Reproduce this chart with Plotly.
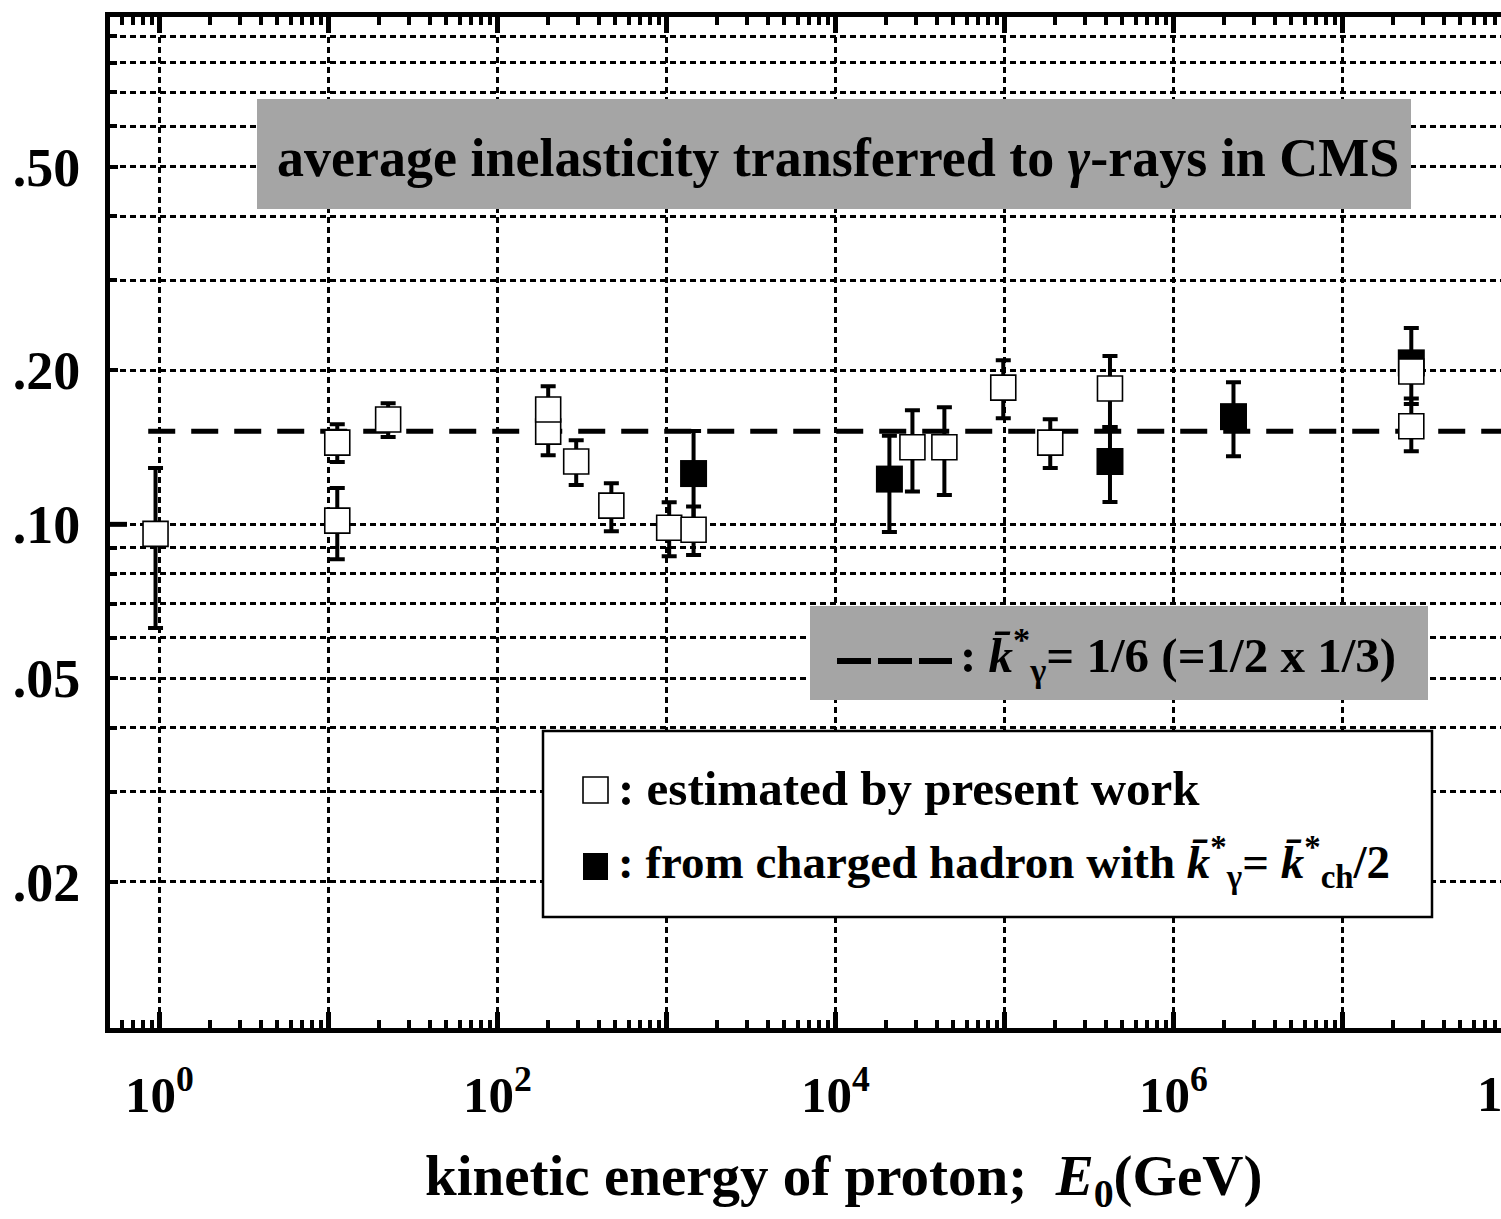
import plotly.graph_objects as go

# ---------------- data ----------------
open_x = [0.95, 11.3, 11.3, 22.6, 200, 200, 293, 473, 1040, 1450,
          28600, 44200, 98600, 187000, 422000, 2.56e7, 2.56e7]
open_y = [0.0958, 0.1017, 0.1445, 0.1603, 0.1518, 0.1677, 0.1327, 0.1088, 0.0985, 0.0976,
          0.1415, 0.1415, 0.1851, 0.1445, 0.1843, 0.1990, 0.1555]
open_hi = [0.1289, 0.1178, 0.157, 0.1725, 0.170, 0.1862, 0.146, 0.1203, 0.1104, 0.1084,
           0.1672, 0.1694, 0.2094, 0.1605, 0.2135, 0.205, 0.1762]
open_lo = [0.0627, 0.0855, 0.1324, 0.1482, 0.1365, 0.152, 0.1194, 0.0969, 0.0866, 0.0871,
           0.1160, 0.1141, 0.1612, 0.1289, 0.155, 0.172, 0.1389]

filled_x = [1450, 20900, 422000, 2.27e6, 2.56e7]
filled_y = [0.1257, 0.1226, 0.1327, 0.1624, 0.2069]
filled_hi = [0.1522, 0.149, 0.155, 0.1897, 0.242]
filled_lo = [0.100, 0.0966, 0.1106, 0.1359, 0.19]

ref_x = [0.86, 1e8]
ref_level = 0.152

x_major = [1, 10, 100, 1e3, 1e4, 1e5, 1e6, 1e7]
x_major_text = ["10<sup>0</sup>", "", "10<sup>2</sup>", "", "10<sup>4</sup>", "", "10<sup>6</sup>", ""]
y_major = [0.02, 0.05, 0.1, 0.2, 0.5]
y_major_text = [".02", ".05", ".10", ".20", ".50"]
y_minor = [0.03, 0.04, 0.06, 0.07, 0.08, 0.09, 0.3, 0.4, 0.6, 0.7, 0.8, 0.9]
x_minor = [m * 10 ** e for e in range(-1, 8) for m in range(2, 10)]

# ---------------- layout geometry ----------------
W, H = 1501, 1219
L, R, T, B = 110, 0, 17, 191
PW = W - L - R
PH = H - T - B
X_RANGE = [-0.2917, 7.939]
Y_RANGE = [-1.985, -0.0078]


def px(x):
    return (x - L) / PW


def py(y):
    return (H - B - y) / PH


FONT = "Liberation Serif"
GRAY = "#a5a5a5"

fig = go.Figure()

# reference dashed line
fig.add_trace(go.Scatter(
    x=ref_x, y=[ref_level] * len(ref_x), mode="lines",
    line=dict(color="black", width=5, dash="27px,16px"),
    hoverinfo="skip", showlegend=False))


def errs(y, hi, lo):
    return [h - v for v, h in zip(y, hi)], [v - l for v, l in zip(y, lo)]


fp, fm = errs(filled_y, filled_hi, filled_lo)
fig.add_trace(go.Scatter(
    x=filled_x, y=filled_y, mode="markers",
    marker=dict(symbol="square", size=27, color="black", line=dict(width=0)),
    error_y=dict(type="data", symmetric=False, array=fp, arrayminus=fm,
                 color="black", thickness=4, width=7.5),
    showlegend=False))

op, om = errs(open_y, open_hi, open_lo)
fig.add_trace(go.Scatter(
    x=open_x, y=open_y, mode="markers",
    marker=dict(symbol="square", size=25, color="white", line=dict(width=1.6, color="black")),
    error_y=dict(type="data", symmetric=False, array=op, arrayminus=om,
                 color="black", thickness=4, width=7.5),
    showlegend=False))

shapes = []
annotations = []

# title box
shapes.append(dict(type="rect", xref="paper", yref="paper", layer="above",
                   x0=px(257), x1=px(1411), y0=py(209), y1=py(99),
                   fillcolor=GRAY, line=dict(width=0)))
annotations.append(dict(xref="paper", yref="paper", x=px(838), y=py(158),
                        xanchor="center", yanchor="middle", showarrow=False,
                        text="average inelasticity transferred to <i>\u03b3</i>-rays in CMS",
                        font=dict(family=FONT, size=54, color="black", weight="bold")))

# dashed-line key box
shapes.append(dict(type="rect", xref="paper", yref="paper", layer="above",
                   x0=px(810), x1=px(1428), y0=py(700), y1=py(606),
                   fillcolor=GRAY, line=dict(width=0)))
shapes.append(dict(type="line", xref="paper", yref="paper", layer="above",
                   x0=px(837), x1=px(952), y0=py(661), y1=py(661),
                   line=dict(color="black", width=6, dash="34px,7px")))
annotations.append(dict(xref="paper", yref="paper", x=px(958), y=py(654),
                        xanchor="left", yanchor="middle", showarrow=False,
                        text=": <i>k\u0304</i><sup>*</sup><sub>\u03b3</sub>= 1/6 (=1/2 x 1/3)",
                        font=dict(family=FONT, size=49, color="black", weight="bold")))

# legend box
shapes.append(dict(type="rect", xref="paper", yref="paper", layer="above",
                   x0=px(543), x1=px(1432), y0=py(917), y1=py(731),
                   fillcolor="white", line=dict(width=2.5, color="black")))
shapes.append(dict(type="rect", xref="paper", yref="paper", layer="above",
                   x0=px(583), x1=px(608), y0=py(803), y1=py(777),
                   fillcolor="white", line=dict(width=1.6, color="black")))
shapes.append(dict(type="rect", xref="paper", yref="paper", layer="above",
                   x0=px(583), x1=px(608), y0=py(880), y1=py(853),
                   fillcolor="black", line=dict(width=0)))
annotations.append(dict(xref="paper", yref="paper", x=px(616), y=py(788),
                        xanchor="left", yanchor="middle", showarrow=False,
                        text=": estimated by present work",
                        font=dict(family=FONT, size=49, color="black", weight="bold")))
annotations.append(dict(xref="paper", yref="paper", x=px(616), y=py(862),
                        xanchor="left", yanchor="middle", showarrow=False,
                        text=": from charged hadron with <i>k\u0304</i><sup>*</sup><sub>\u03b3</sub>= "
                             "<i>k\u0304</i><sup>*</sup><sub>ch</sub>/2",
                        font=dict(family=FONT, size=47, color="black", weight="bold")))

# long tick at the decade 0.1 on the left frame
shapes.append(dict(type="line", xref="paper", yref="y", layer="above",
                   x0=0, x1=17 / PW, y0=0.1, y1=0.1,
                   line=dict(color="black", width=5)))

# cut-off 10^8 label at the right edge
annotations.append(dict(xref="paper", yref="paper", x=px(159.3 + 8 * 169), y=py(1090),
                        xanchor="center", yanchor="middle", showarrow=False,
                        text="10<sup>8</sup>",
                        font=dict(family=FONT, size=51, color="black", weight="bold")))

# x-axis title (placed where the reference has it)
annotations.append(dict(xref="paper", yref="paper", x=px(843), y=py(1180),
                        xanchor="center", yanchor="middle", showarrow=False,
                        text="kinetic energy of proton;\u00a0 <i>E</i><sub>0</sub>(GeV)",
                        font=dict(family=FONT, size=57, color="black", weight="bold")))

fig.update_layout(
    width=W, height=H,
    margin=dict(l=L, r=R, t=T, b=B),
    paper_bgcolor="white", plot_bgcolor="white",
    font=dict(family=FONT, color="black", weight="bold"),
    shapes=shapes, annotations=annotations,
    showlegend=False,
)

fig.update_xaxes(
    type="log", range=X_RANGE,
    tickmode="array", tickvals=x_major, ticktext=x_major_text,
    ticks="inside", ticklen=16, tickwidth=4.5, tickcolor="black",
    showline=True, linewidth=5, linecolor="black", mirror="ticks",
    showgrid=True, gridcolor="black", gridwidth=2.5, griddash="6px,4px",
    zeroline=False,
    tickfont=dict(family=FONT, size=51, color="black", weight="bold"),
    ticklabelstandoff=18,
    minor=dict(tickmode="array", tickvals=x_minor, ticks="inside", ticklen=8,
               tickwidth=4, tickcolor="black", showgrid=False),
)

fig.update_yaxes(
    type="log", range=Y_RANGE,
    tickmode="array", tickvals=y_major, ticktext=y_major_text,
    ticks="inside", ticklen=8, tickwidth=4, tickcolor="black",
    showline=True, linewidth=5, linecolor="black", mirror=False,
    showgrid=True, gridcolor="black", gridwidth=2.5, griddash="6px,4px",
    zeroline=False,
    tickfont=dict(family=FONT, size=54, color="black", weight="bold"),
    ticklabelstandoff=14,
    minor=dict(tickmode="array", tickvals=y_minor, ticks="inside", ticklen=7,
               tickwidth=4, tickcolor="black", showgrid=True,
               gridcolor="black", gridwidth=2.5, griddash="6px,4px"),
)

fig.write_html("out.html")
